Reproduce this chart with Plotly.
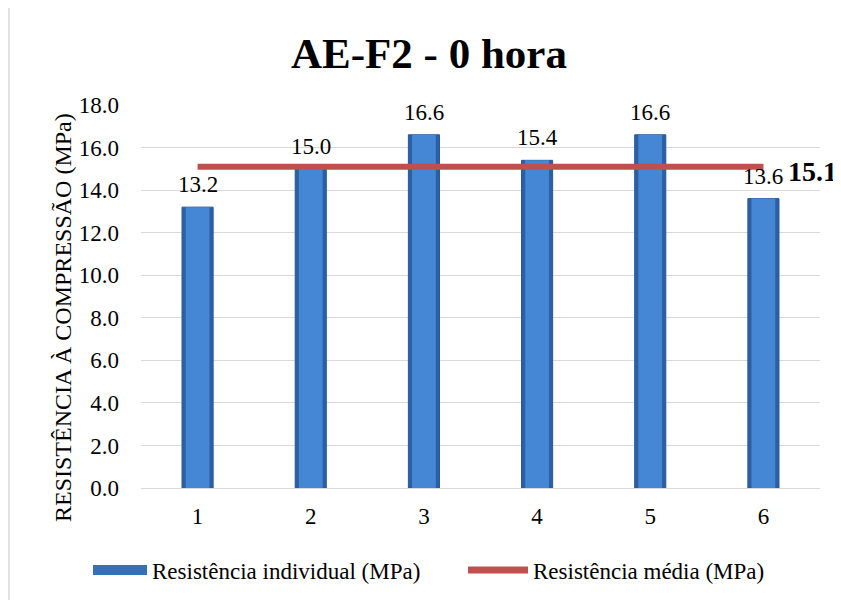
import plotly.graph_objects as go

categories = ["1", "2", "3", "4", "5", "6"]
individual = [13.2, 15.0, 16.6, 15.4, 16.6, 13.6]
media_value = 15.1
media = [media_value] * len(categories)
y_ticks = [0, 2, 4, 6, 8, 10, 12, 14, 16, 18]

title_text = "AE-F2 - 0 hora"
y_title = "RESISTÊNCIA À COMPRESSÃO (MPa)"
name_bar = "Resistência individual (MPa)"
name_line = "Resistência média (MPa)"

FONT = "Liberation Serif"
BLUE_EDGE = "#2C5FA3"
BLUE_MID = "#4587D4"
RED = "#C0504D"

OFF = 8  # page body margin
W, H = 841, 600
PX0, PX1, PY0, PY1 = 141, 820, 105, 488
L = PX0 - OFF
T = PY0 - OFF
pw, ph = PX1 - PX0, PY1 - PY0
R = W - (L + pw)
B = H - (T + ph)


def px_x(x):
    return (x - PX0) / pw


def px_y(y):
    return (PY1 - y) / ph


fig = go.Figure()
fig.add_trace(go.Bar(
    x=categories, y=individual, name=name_bar, showlegend=False,
    width=0.275,
    marker=dict(color=BLUE_EDGE, line=dict(color="#285896", width=1)),
))
fig.add_trace(go.Bar(
    x=categories, y=individual, name=name_bar, showlegend=False, hoverinfo="skip",
    width=0.21,
    marker=dict(color=BLUE_MID, line=dict(width=0)),
))
fig.add_trace(go.Scatter(
    x=categories, y=media, name=name_line, mode="lines", showlegend=False,
    line=dict(color=RED, width=6),
))
# legend-only entries
fig.add_trace(go.Scatter(
    x=[None], y=[None], name=name_bar, mode="lines", legend="legend",
    line=dict(color="#3670B8", width=12),
))
fig.add_trace(go.Scatter(
    x=[None], y=[None], name=name_line, mode="lines", legend="legend2",
    line=dict(color=RED, width=7),
))

annotations = []
for i, v in enumerate(individual):
    annotations.append(dict(
        x=i, y=v, xref="x", yref="y", text=f"{v:.1f}", showarrow=False,
        yanchor="bottom", yshift=8,
        font=dict(family=FONT, size=23, color="#000000"),
    ))
annotations.append(dict(
    x=len(categories) - 1, y=media_value, xref="x", yref="y",
    text=f"<b>{media_value:.1f}</b>",
    showarrow=False, xanchor="left", xshift=23, yshift=-5,
    font=dict(family=FONT, size=28, color="#000000"),
))
annotations.append(dict(
    x=px_x(63), y=px_y(318), xref="paper", yref="paper",
    text=y_title, textangle=-90, showarrow=False,
    xanchor="center", yanchor="middle",
    font=dict(family=FONT, size=24, color="#000000"),
))

shapes = [
    dict(type="line", xref="paper", yref="paper",
         x0=px_x(9), x1=px_x(9), y0=px_y(5), y1=px_y(620),
         line=dict(color="#D9D9D9", width=1.5)),
    dict(type="line", xref="paper", yref="paper",
         x0=px_x(9), x1=px_x(860), y0=px_y(5), y1=px_y(5),
         line=dict(color="#D9D9D9", width=1.5)),
]

leg_font = dict(family=FONT, size=23, color="#000000")

fig.update_layout(
    width=W, height=H,
    margin=dict(l=L, r=R, t=T, b=B),
    paper_bgcolor="white", plot_bgcolor="white",
    barmode="overlay",
    title=dict(text=f"<b>{title_text}</b>", x=px_x(429), xref="paper", xanchor="center",
               y=1 - (53 - OFF) / H, yanchor="middle",
               font=dict(family=FONT, size=43, color="#000000")),
    font=dict(family=FONT, size=23, color="#000000"),
    xaxis=dict(
        range=[-0.5, 5.5], showgrid=False, showline=False, zeroline=False,
        ticks="", ticklabelstandoff=12,
        tickfont=dict(family=FONT, size=23, color="#000000"),
    ),
    yaxis=dict(
        range=[0, 18], tickvals=y_ticks, ticktext=[f"{t:.1f}" for t in y_ticks],
        showgrid=True, gridcolor="#D9D9D9", gridwidth=1.3,
        zeroline=True, zerolinecolor="#D9D9D9", zerolinewidth=1.3,
        showline=False, ticks="", ticklabelstandoff=21,
        tickfont=dict(family=FONT, size=23, color="#000000"),
    ),
    legend=dict(
        orientation="h", x=px_x(88), xanchor="left", y=px_y(570), yanchor="middle",
        font=leg_font, itemwidth=54, bgcolor="rgba(0,0,0,0)",
    ),
    legend2=dict(
        orientation="h", x=px_x(463), xanchor="left", y=px_y(570), yanchor="middle",
        font=leg_font, itemwidth=60, bgcolor="rgba(0,0,0,0)",
    ),
    annotations=annotations,
    shapes=shapes,
)

fig.write_html("out.html")
